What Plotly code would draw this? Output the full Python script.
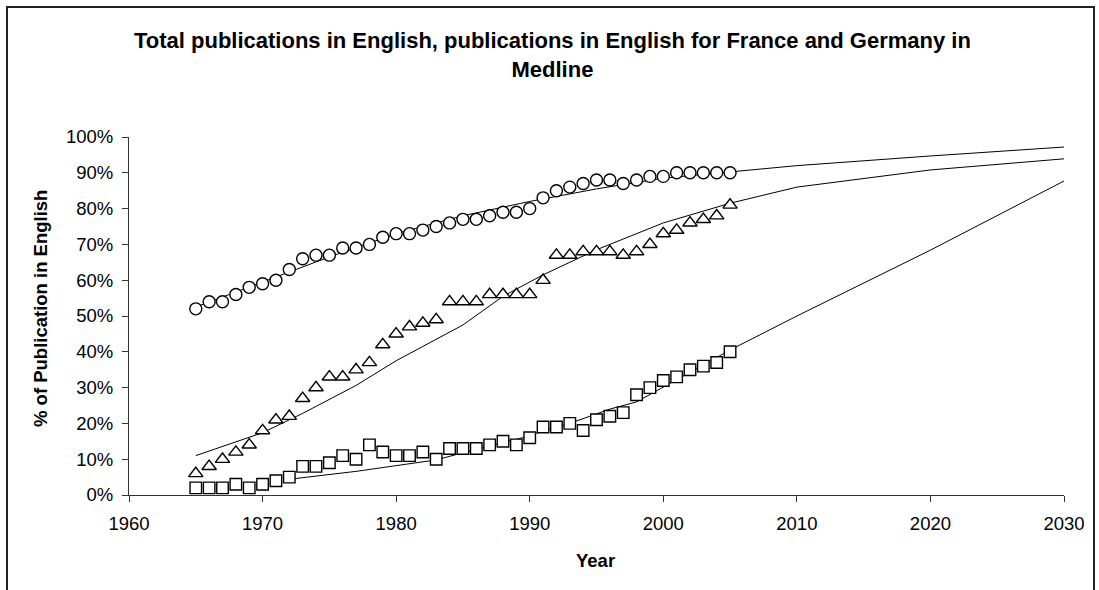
import plotly.graph_objects as go

# ---- data (percent of publications in English) ----
years = list(range(1965, 2006))
total_pct = [52, 54, 54, 56, 58, 59, 60, 63, 66, 67, 67, 69, 69, 70, 72, 73, 73, 74, 75, 76, 77,
             77, 78, 79, 79, 80, 83, 85, 86, 87, 88, 88, 87, 88, 89, 89, 90, 90, 90, 90, 90]
germany_pct = [6, 8, 10, 12, 14, 18, 21, 22, 27, 30, 33, 33, 35, 37, 42, 45, 47, 48, 49, 54, 54,
               54, 56, 56, 56, 56, 60, 67, 67, 68, 68, 68, 67, 68, 70, 73, 74, 76, 77, 78, 81]
france_pct = [2, 2, 2, 3, 2, 3, 4, 5, 8, 8, 9, 11, 10, 14, 12, 11, 11, 12, 10, 13, 13,
              13, 14, 15, 14, 16, 19, 19, 20, 18, 21, 22, 23, 28, 30, 32, 33, 35, 36, 37, 40]

# trend / projection lines
total_fit_years = [1965, 1970, 1975, 1980, 1985, 1990, 1995, 2000, 2005, 2010, 2020, 2030]
total_fit = [52.5, 59.5, 66.5, 73, 78, 82, 85.5, 88.5, 90.3, 92, 94.7, 97.2]
germany_fit_years = [1965, 1970, 1973, 1977, 1980, 1985, 1988, 1991, 1995, 2000, 2005, 2010, 2020, 2030]
germany_fit = [11, 17.4, 22.8, 30.6, 37.5, 47.5, 55.5, 61.5, 68.5, 76, 81.5, 86, 90.8, 93.9]
france_fit_years = [1972, 1977, 1983, 1985, 1990, 1991, 1993, 1996, 1998, 2005, 2010, 2020, 2030]
france_fit = [4.4, 6.6, 9.8, 11.8, 16.5, 18, 20, 24, 26, 40.5, 50, 68.4, 87.7]

title_text = ("<b>Total publications in English, publications in English for France and Germany in"
              "<br>Medline</b>")
x_ticks = [1960, 1970, 1980, 1990, 2000, 2010, 2020, 2030]
y_ticks = [0, 10, 20, 30, 40, 50, 60, 70, 80, 90, 100]
y_tick_labels = [f"{v}%" for v in y_ticks]

FONT = "Liberation Sans, Arial, sans-serif"

fig = go.Figure()

line_style = dict(color="black", width=1)
for fx, fy, name in [(total_fit_years, total_fit, "Total trend"),
                     (germany_fit_years, germany_fit, "Germany trend"),
                     (france_fit_years, france_fit, "France trend")]:
    fig.add_trace(go.Scatter(x=fx, y=fy, mode="lines", line=line_style,
                             name=name, showlegend=False, hoverinfo="skip"))

mk_line = dict(color="black", width=1.4)
fig.add_trace(go.Scatter(x=years, y=total_pct, mode="markers", name="Total",
                         marker=dict(symbol="circle", size=12, color="white", line=mk_line),
                         showlegend=False))
fig.add_trace(go.Scatter(x=years, y=germany_pct, mode="markers", name="Germany",
                         marker=dict(symbol="triangle-up", size=12.5, color="white", line=mk_line),
                         showlegend=False))
fig.add_trace(go.Scatter(x=years, y=france_pct, mode="markers", name="France",
                         marker=dict(symbol="square", size=11.5, color="white", line=mk_line),
                         showlegend=False))

L, R, T, B = 129, 1064, 137, 495
W, H = 1099, 590
pw, ph = R - L, B - T


def px_x(p):
    return (p - L) / pw


def px_y(p):
    return (B - p) / ph


fig.update_layout(
    width=W, height=H,
    margin=dict(l=L, r=W - R, t=T, b=H - B, pad=0),
    paper_bgcolor="white", plot_bgcolor="white",
    font=dict(family=FONT, color="black", size=18.5),
    xaxis=dict(range=[1960, 2030], tickvals=x_ticks, ticks="outside", ticklen=6,
               tickcolor="#333", showline=True, linecolor="#333", linewidth=1,
               showgrid=False, zeroline=False, tickfont=dict(size=18.5),
               ticklabelstandoff=6),
    yaxis=dict(range=[0, 100], tickvals=y_ticks, ticktext=y_tick_labels, ticks="outside",
               ticklen=6, tickcolor="#333", showline=True, linecolor="#333", linewidth=1,
               showgrid=False, zeroline=False, tickfont=dict(size=18.5),
               ticklabelstandoff=5),
    showlegend=False,
)

fig.add_annotation(text=title_text, xref="paper", yref="paper",
                   x=px_x(552), y=px_y(55), xanchor="center", yanchor="middle",
                   showarrow=False, font=dict(size=22, family=FONT))
fig.add_annotation(text="<b>Year</b>", xref="paper", yref="paper",
                   x=px_x(595), y=px_y(560), xanchor="center", yanchor="middle",
                   showarrow=False, font=dict(size=18.5, family=FONT))
fig.add_annotation(text="<b>% of Publication in English</b>", xref="paper", yref="paper",
                   x=px_x(40), y=px_y(309), xanchor="center", yanchor="middle",
                   textangle=-90, showarrow=False, font=dict(size=18.5, family=FONT))

# chart-area frame
fig.add_shape(type="rect", xref="paper", yref="paper",
              x0=px_x(7), x1=px_x(1094), y0=px_y(660), y1=px_y(7),
              line=dict(color="#222", width=2), fillcolor="rgba(0,0,0,0)", layer="below")

fig.write_html("out.html", config={"displayModeBar": False},
               post_script="document.body.style.margin='0px';")
